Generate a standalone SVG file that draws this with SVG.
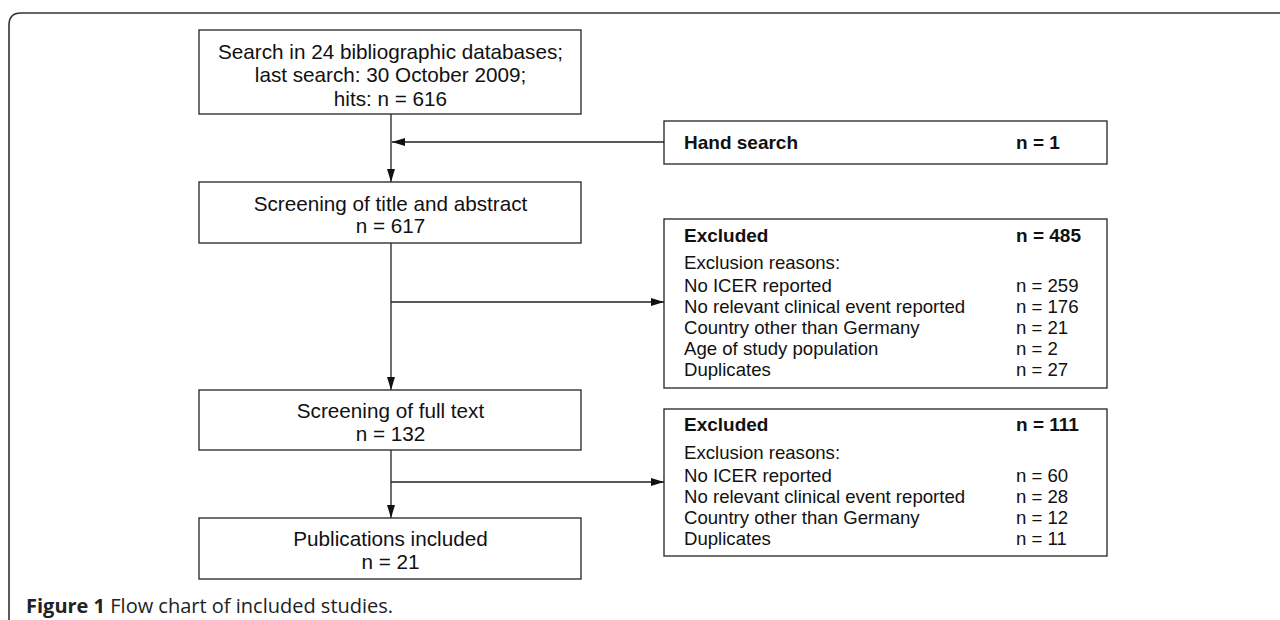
<svg xmlns="http://www.w3.org/2000/svg" width="1280" height="620" viewBox="0 0 1280 620">
<defs>
<style>
.box{fill:#fff;stroke:#222;stroke-width:1.3}
.frame{fill:none;stroke:#333;stroke-width:1.6}
.main{font-family:"Liberation Sans",Arial,sans-serif;font-size:20.7px;fill:#111;text-anchor:middle}
.t{font-family:"Liberation Sans",Arial,sans-serif;font-size:18.6px;fill:#111}
.b{font-family:"Liberation Sans",Arial,sans-serif;font-size:19px;font-weight:bold;fill:#111}
.cap{font-family:"Open Sans","Liberation Sans",sans-serif;font-size:20px;fill:#222}
.conn{fill:none;stroke:#222;stroke-width:1.3}
</style>
<marker id="arr" viewBox="0 0 13 8" refX="13" refY="4" markerWidth="13" markerHeight="8" markerUnits="userSpaceOnUse" orient="auto">
<path d="M0,0 L13,4 L0,8 Z" fill="#111"/>
</marker>
</defs>
<rect width="1280" height="620" fill="#fff"/>
<path class="frame" d="M9,640 L9,25 Q9,13 21,13 L1290,13"/>

<g id="connectors">
<line class="conn" x1="391" y1="114" x2="391" y2="182" marker-end="url(#arr)"/>
<line class="conn" x1="664" y1="142" x2="392" y2="142" marker-end="url(#arr)"/>
<line class="conn" x1="391" y1="243" x2="391" y2="390" marker-end="url(#arr)"/>
<line class="conn" x1="391" y1="302" x2="664" y2="302" marker-end="url(#arr)"/>
<line class="conn" x1="391" y1="450" x2="391" y2="518" marker-end="url(#arr)"/>
<line class="conn" x1="391" y1="482" x2="664" y2="482" marker-end="url(#arr)"/>
</g>

<g id="search">
<rect class="box" x="199" y="30" width="382" height="84"/>
<text class="main" x="390.5" y="58.5">Search in 24 bibliographic databases;</text>
<text class="main" x="390.5" y="82">last search: 30 October 2009;</text>
<text class="main" x="390.5" y="105.5">hits: n = 616</text>
</g>

<g id="hand">
<rect class="box" x="664" y="121" width="443" height="43"/>
<text class="b" x="684" y="149">Hand search</text>
<text class="b" x="1016" y="149">n = 1</text>
</g>

<g id="screen-title">
<rect class="box" x="199" y="182" width="382" height="61"/>
<text class="main" x="390.5" y="210.5">Screening of title and abstract</text>
<text class="main" x="390.5" y="233">n = 617</text>
</g>

<g id="excluded1">
<rect class="box" x="664" y="219" width="443" height="169"/>
<text class="b" x="684" y="242">Excluded</text>
<text class="b" x="1016" y="242">n = 485</text>
<text class="t" x="684" y="269">Exclusion reasons:</text>
<text class="t" x="684" y="292">No ICER reported</text>
<text class="t" x="1016" y="292">n = 259</text>
<text class="t" x="684" y="313">No relevant clinical event reported</text>
<text class="t" x="1016" y="313">n = 176</text>
<text class="t" x="684" y="334">Country other than Germany</text>
<text class="t" x="1016" y="334">n = 21</text>
<text class="t" x="684" y="355">Age of study population</text>
<text class="t" x="1016" y="355">n = 2</text>
<text class="t" x="684" y="376">Duplicates</text>
<text class="t" x="1016" y="376">n = 27</text>
</g>

<g id="screen-full">
<rect class="box" x="199" y="390" width="382" height="60"/>
<text class="main" x="390.5" y="418">Screening of full text</text>
<text class="main" x="390.5" y="441">n = 132</text>
</g>

<g id="excluded2">
<rect class="box" x="664" y="409" width="443" height="147"/>
<text class="b" x="684" y="431">Excluded</text>
<text class="b" x="1016" y="431">n = 111</text>
<text class="t" x="684" y="459">Exclusion reasons:</text>
<text class="t" x="684" y="482">No ICER reported</text>
<text class="t" x="1016" y="482">n = 60</text>
<text class="t" x="684" y="503">No relevant clinical event reported</text>
<text class="t" x="1016" y="503">n = 28</text>
<text class="t" x="684" y="524">Country other than Germany</text>
<text class="t" x="1016" y="524">n = 12</text>
<text class="t" x="684" y="545">Duplicates</text>
<text class="t" x="1016" y="545">n = 11</text>
</g>

<g id="included">
<rect class="box" x="199" y="518" width="382" height="61"/>
<text class="main" x="390.5" y="546">Publications included</text>
<text class="main" x="390.5" y="569">n = 21</text>
</g>

<text class="cap" x="26" y="613"><tspan font-weight="bold">Figure 1</tspan> Flow chart of included studies.</text>
</svg>
